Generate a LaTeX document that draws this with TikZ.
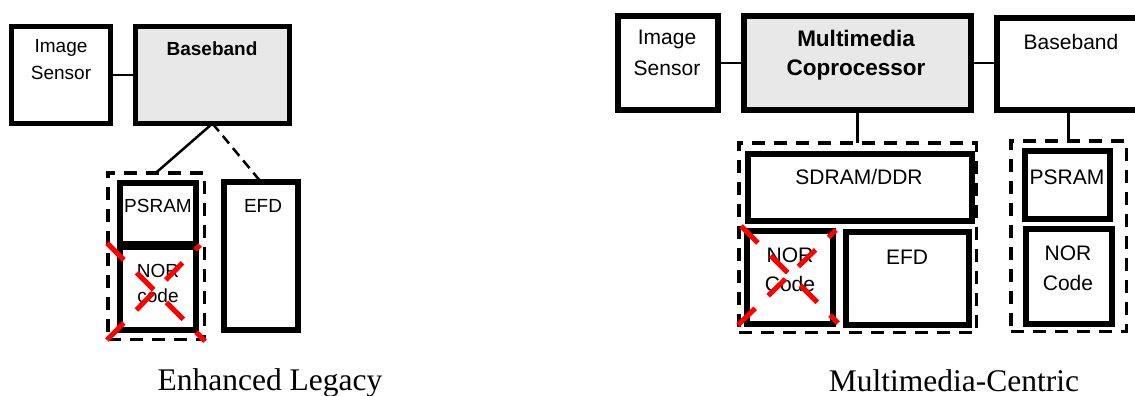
\documentclass[tikz,border=0pt]{standalone}
\usepackage{fontspec}
\setmainfont{Liberation Serif}
\setsansfont{Liberation Sans}
\usetikzlibrary{calc}
\definecolor{boxgray}{HTML}{E8E8E8}
\definecolor{xred}{HTML}{FF0000}
\tikzset{
  blk/.style={draw=black, fill=white, rectangle, inner sep=0pt, outer sep=0pt},
  gbox/.style={blk, fill=boxgray},
  dbox/.style={draw=black, rectangle, inner sep=0pt, outer sep=0pt, dash pattern=on 13pt off 9pt},
  conn/.style={draw=black, line width=2.5pt},
  dconn/.style={conn, dash pattern=on 10pt off 6pt},
  redx/.style={draw=xred, line width=5pt, dash pattern=on 24pt off 18pt},
  tsmall/.style={anchor=base, inner sep=0pt, font=\sffamily\fontsize{19}{23}\selectfont},
  tsmallb/.style={tsmall, font=\sffamily\bfseries\fontsize{19}{23}\selectfont},
  tbig/.style={anchor=base, inner sep=0pt, font=\sffamily\fontsize{21}{25}\selectfont},
  tbigb/.style={tbig, font=\sffamily\bfseries\fontsize{22.5}{26}\selectfont},
  captext/.style={anchor=base, inner sep=0pt, font=\rmfamily\fontsize{31.5}{36}\selectfont},
}
% name, style, line width, x1, y1, x2, y2 (outer edges, image pixels)
\newcommand{\placebox}[7]{%
  \node[#2, line width=#3pt, minimum width={#6-#4-#3}, minimum height={#7-#5-#3}]
    (#1) at ({(#4+#6)/2},{(#5+#7)/2}) {};}
\begin{document}
\begin{tikzpicture}[x=1pt, y=-1pt]
\useasboundingbox (0,0) rectangle (1135,396);
\clip (0,0) rectangle (1135,396);
% ---------------- Enhanced Legacy ----------------
\placebox{d1}{dbox}{3.5}{106}{171}{206}{341}
\placebox{is1}{blk}{5}{9}{24}{113}{126}
\placebox{bb1}{gbox}{5}{133}{24}{292}{126}
\placebox{ps1}{blk}{6}{117}{180}{199}{247}
\placebox{nor1}{blk}{6}{117}{244}{199}{333}
\placebox{efd1}{blk}{6}{221}{179}{301}{333}

\draw[conn] (is1.east) -- (bb1.west);
\draw[conn] (bb1.south) -- (d1.north);
\draw[dconn] (bb1.south) -- (efd1.north);

\node[tsmall] (t1a) at (61,53) {Image};
\node[tsmall] (t1b) at (61,80) {Sensor};
\node[tsmallb] (t1c) at (212,56) {Baseband};
\node[tsmall] (t1d) at (158,212) {PSRAM};
\node[tsmall] (t1e) at (263,212) {EFD};
\node[tsmall] (t1f) at (158,277) {NOR};
\node[tsmall] (t1g) at (158,302) {code};

\draw[redx] ($(nor1.north west)+(-13,-4)$) -- ($(nor1.south east)+(9,11)$);
\draw[redx] ($(nor1.south west)+(-13,10)$) -- ($(nor1.north east)+(4,-2)$);

\node[captext] (cap1) at (270,390) {Enhanced Legacy};

% ---------------- Multimedia-Centric ----------------
\placebox{d2}{dbox}{3.5}{737}{141}{978}{334}
\placebox{d3}{dbox}{3.5}{1009}{139}{1128}{333}
\placebox{is2}{blk}{6}{615}{13}{721}{113}
\placebox{mm}{gbox}{6}{741}{13}{974}{113}
\placebox{bb2}{blk}{6}{994}{15}{1175}{113}
\placebox{sd}{blk}{6}{745}{151}{975}{224}
\placebox{nor2}{blk}{6}{744}{228}{836}{327}
\placebox{efd2}{blk}{6}{843}{229}{972}{328}
\placebox{ps2}{blk}{6}{1022}{148}{1113}{222}
\placebox{nor3}{blk}{6}{1023}{226}{1115}{327}

\draw[conn] (is2.east) -- (mm.west);
\draw[conn] (mm.east) -- (mm.east -| bb2.west);
\draw[conn] (mm.south) -- (mm.south |- d2.north);
\draw[conn] (d3.north |- bb2.south) -- (d3.north);

\node[tbig] (t2a) at (667,45) {Image};
\node[tbig] (t2b) at (667,75) {Sensor};
\node[tbigb] (t2c) at (856,47) {Multimedia};
\node[tbigb] (t2d) at (856,75) {Coprocessor};
\node[tbig] (t2e) at (1071,50) {Baseband};
\node[tbig] (t2f) at (859,184) {SDRAM/DDR};
\node[tbig] (t2g) at (790,262) {NOR};
\node[tbig] (t2h) at (790,291) {Code};
\node[tbig] (t2i) at (907,264) {EFD};
\node[tbig] (t2j) at (1067,184) {PSRAM};
\node[tbig] (t2k) at (1068,260) {NOR};
\node[tbig] (t2l) at (1068,290) {Code};

\draw[redx] ($(nor2.north west)+(-6,-5)$) -- ($(nor2.south east)+(5,-1)$);
\draw[redx] ($(nor2.south west)+(-9,1)$) -- ($(nor2.north east)+(3,-1)$);

\node[captext] (cap2) at (954,391) {Multimedia-Centric};
\end{tikzpicture}
\end{document}
